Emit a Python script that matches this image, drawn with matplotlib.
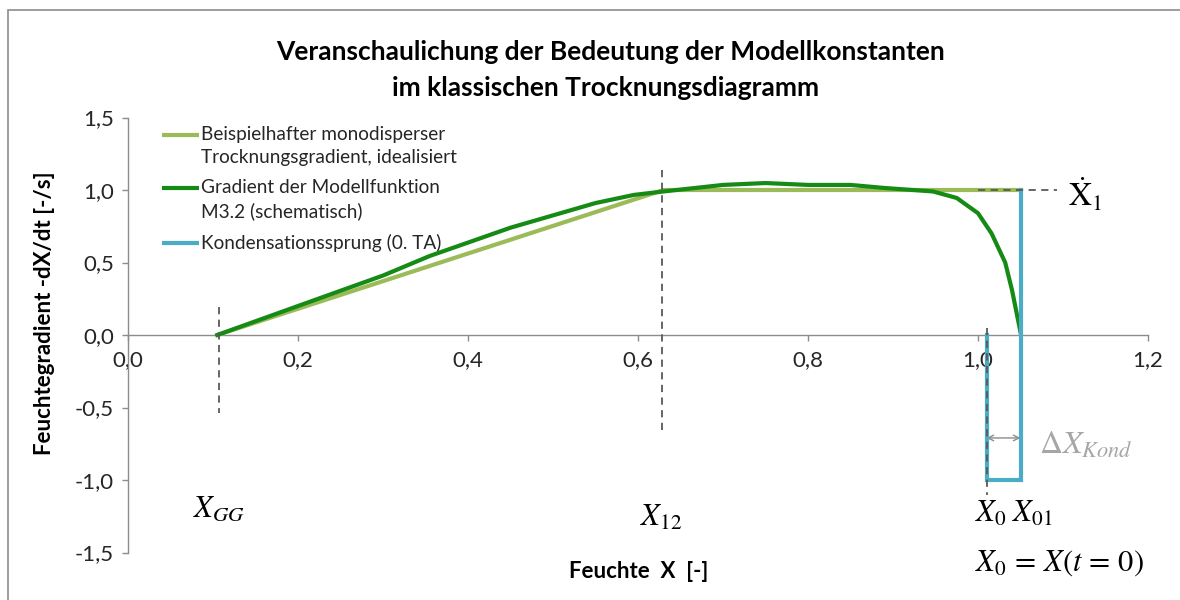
import numpy as np
import matplotlib
matplotlib.use("Agg")
import matplotlib.pyplot as plt
from matplotlib.patches import Rectangle

plt.rcParams['font.family'] = ['Lato', 'DejaVu Sans']
plt.rcParams['mathtext.fontset'] = 'stix'

# ---------------- Daten ----------------
# idealisierter Trocknungsgradient (hellgrün)
x_ideal = [0.105, 0.63, 1.05]
y_ideal = [0.0, 1.0, 1.0]

# Gradient der Modellfunktion M3.2 (dunkelgrün)
x_modell = [0.105, 0.2, 0.3, 0.355, 0.45, 0.55, 0.595, 0.63, 0.70, 0.75, 0.80,
            0.85, 0.89, 0.947, 0.975, 1.0, 1.016, 1.032, 1.04, 1.05]
y_modell = [0.0, 0.2, 0.41, 0.545, 0.74, 0.91, 0.966, 0.99, 1.035, 1.048, 1.035,
            1.035, 1.014, 0.99, 0.945, 0.84, 0.70, 0.50, 0.31, 0.02]

# Kondensationssprung (blau)
x_kond = [1.01, 1.01, 1.05, 1.05]
y_kond = [0.0, -1.0, -1.0, 1.0]

# Konstanten
X_GG, X_12, X_0, X_01, X1_punkt = 0.107, 0.628, 1.01, 1.05, 1.0

x_ticks = [0.0, 0.2, 0.4, 0.6, 0.8, 1.0, 1.2]
y_ticks = [-1.5, -1.0, -0.5, 0.0, 0.5, 1.0, 1.5]

C_HELL = "#9BBB59"
C_DUNKEL = "#158A15"
C_BLAU = "#4BACC6"
C_GRAU = "#595959"
C_ACHSE = "#8C8C8C"

fig = plt.figure(figsize=(11.8, 6.0), dpi=100)
fig.patch.set_facecolor("white")
fig.add_artist(Rectangle((8 / 1180, -0.1), 1.2, (1 - 10 / 600) + 0.1,
                         transform=fig.transFigure, fill=False,
                         edgecolor="#8C8C8C", lw=1.2))

ax = fig.add_axes([128 / 1180, 1 - 552.5 / 600, (1148 - 128) / 1180, 435 / 600])
ax.set_xlim(0, 1.2)
ax.set_ylim(-1.5, 1.5)

# Kurven
ax.plot(x_ideal, y_ideal, color=C_HELL, lw=3.0, solid_capstyle="butt", zorder=3)
ax.plot(x_modell, y_modell, color=C_DUNKEL, lw=3.0, zorder=4)
ax.plot(x_kond, y_kond, color=C_BLAU, lw=3.0, solid_joinstyle="miter", zorder=5)

# Hilfslinien
dash = dict(color=C_GRAU, lw=1.3, ls=(0, (4, 3)), zorder=6)
ax.plot([X_GG, X_GG], [0.19, -0.54], **dash)
ax.plot([X_12, X_12], [1.14, -0.69], **dash)
ax.plot([X_0, X_0], [0.05, -1.1], **dash)
ax.plot([1.0, 1.093], [X1_punkt, X1_punkt], **dash)

# Pfeil Delta X_Kond
ax.annotate("", xy=(X_0, -0.71), xytext=(X_01, -0.71),
            arrowprops=dict(arrowstyle="<->", color="#8C8C8C", lw=1.0,
                            shrinkA=0, shrinkB=0))

# Achsen
for s in ["top", "right"]:
    ax.spines[s].set_visible(False)
ax.spines["bottom"].set_position(("data", 0))
for s in ["left", "bottom"]:
    ax.spines[s].set_color(C_ACHSE)
    ax.spines[s].set_linewidth(1.0)
ax.set_xticks(x_ticks)
ax.set_xticklabels([f"{v:.1f}".replace(".", ",") for v in x_ticks])
ax.set_yticks(y_ticks)
ax.set_yticklabels([f"{v:.1f}".replace(".", ",") for v in y_ticks])
ax.tick_params(axis="both", direction="out", length=4, width=1.0,
               color=C_ACHSE, labelsize=16, labelcolor="#262626")
ax.tick_params(axis="x", pad=7)
ax.tick_params(axis="y", pad=6)

# Titel und Achsenbeschriftungen
fig.text(611 / 1180, 1 - 52 / 600, "Veranschaulichung der Bedeutung der Modellkonstanten",
         ha="center", va="center", fontsize=19, fontweight="bold")
fig.text(606 / 1180, 1 - 88 / 600, "im klassischen Trocknungsdiagramm",
         ha="center", va="center", fontsize=19, fontweight="bold")
fig.text(639 / 1180, 1 - 571 / 600, "Feuchte  X  [-]", ha="center", va="center",
         fontsize=16, fontweight="bold")
fig.text(45 / 1180, 1 - 313 / 600, "Feuchtegradient -dX/dt [-/s]", ha="center",
         va="center", rotation=90, fontsize=16, fontweight="bold")

# Legende (manuell, Linie auf Höhe der ersten Textzeile)
leg = [(C_HELL, ["Beispielhafter monodisperser", "Trocknungsgradient, idealisiert"], 1.38),
       (C_DUNKEL, ["Gradient der Modellfunktion", "M3.2 (schematisch)"], 1.014),
       (C_BLAU, ["Kondensationssprung (0. TA)"], 0.634)]
for farbe, zeilen, yy in leg:
    ax.plot([0.04, 0.083], [yy, yy], color=farbe, lw=3.0, solid_capstyle="butt")
    for k, z in enumerate(zeilen):
        ax.text(0.086, yy - k * 0.157, z, ha="left", va="center", fontsize=13.7,
                color="#262626")

# Formelzeichen
ax.text(0.076, -1.2, r"$X_{GG}$", fontsize=22, ha="left", va="center")
ax.text(0.602, -1.26, r"$X_{12}$", fontsize=22, ha="left", va="center")
ax.text(0.997, -1.23, r"$X_0\;X_{01}$", fontsize=22, ha="left", va="center",
        clip_on=False)
ax.text(0.997, -1.57, r"$X_0\,=\,X(t\,=\,0)$", fontsize=22, ha="left", va="center",
        clip_on=False)
ax.text(1.106, 0.97, r"$\dot{\mathrm{X}}_1$", fontsize=23, ha="left", va="center",
        clip_on=False)
ax.text(1.072, -0.76, r"$\Delta X_{Kond}$", fontsize=23, ha="left", va="center",
        color="#A6A6A6", clip_on=False)

fig.savefig("out.png", dpi=100)
